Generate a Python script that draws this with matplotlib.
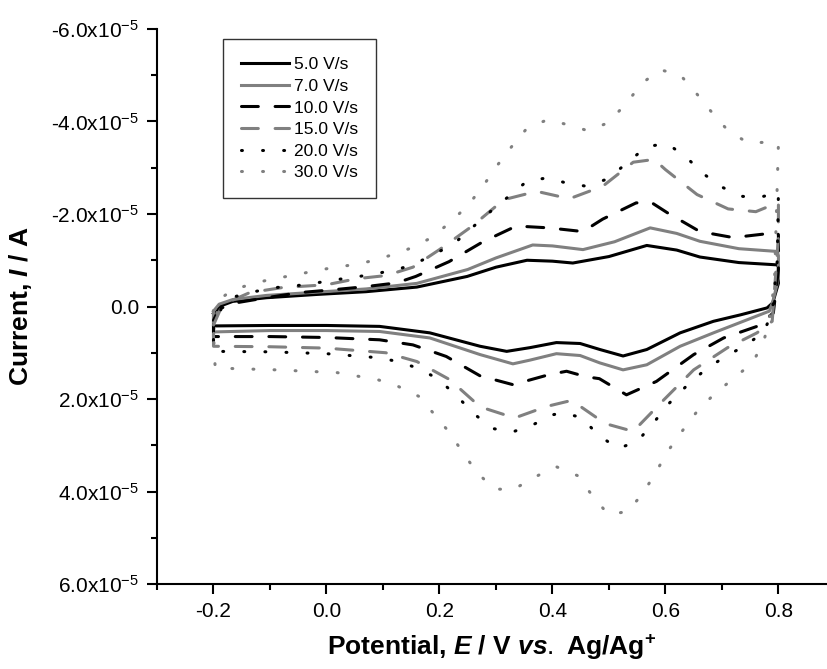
import numpy as np
import matplotlib
matplotlib.use('Agg')
import matplotlib.pyplot as plt
from matplotlib.ticker import MultipleLocator, FixedLocator

plt.rcParams['font.family'] = ['Liberation Sans', 'DejaVu Sans']
plt.rcParams['mathtext.fontset'] = 'custom'
plt.rcParams['mathtext.rm'] = 'Liberation Sans'
plt.rcParams['mathtext.it'] = 'Liberation Sans:italic:bold'
plt.rcParams['mathtext.bf'] = 'Liberation Sans:bold'

# current in units of 1e-5 A, potential in V; forward (upper) and reverse (lower) branches
labels = ['5.0 V/s', '7.0 V/s', '10.0 V/s', '15.0 V/s', '20.0 V/s', '30.0 V/s']

x5_up = [-0.2, -0.19, -0.166, -0.106, -0.018, 0.07, 0.16, 0.249, 0.30, 0.355, 0.40, 0.436, 0.50, 0.567, 0.62, 0.661, 0.73, 0.798, 0.80]
y5_up = [0.15, 0.0, -0.11, -0.19, -0.26, -0.32, -0.42, -0.65, -0.85, -1.0, -0.98, -0.94, -1.08, -1.32, -1.22, -1.07, -0.95, -0.90, -0.85]
x5_dn = [0.80, 0.79, 0.78, 0.733, 0.685, 0.626, 0.567, 0.525, 0.484, 0.449, 0.407, 0.36, 0.319, 0.272, 0.183, 0.094, 0.0, -0.1, -0.2, -0.2]
y5_dn = [-0.5, -0.08, 0.03, 0.18, 0.32, 0.57, 0.93, 1.07, 0.93, 0.80, 0.78, 0.89, 0.97, 0.86, 0.57, 0.43, 0.41, 0.41, 0.42, 0.15]

x7_up = [-0.2, -0.19, -0.166, -0.106, -0.018, 0.07, 0.16, 0.25, 0.30, 0.365, 0.40, 0.454, 0.51, 0.573, 0.62, 0.661, 0.73, 0.798, 0.80]
y7_up = [0.1, -0.05, -0.15, -0.24, -0.31, -0.38, -0.50, -0.80, -1.05, -1.33, -1.31, -1.23, -1.40, -1.70, -1.58, -1.41, -1.25, -1.19, -1.1]
x7_dn = [0.80, 0.79, 0.784, 0.744, 0.685, 0.626, 0.567, 0.525, 0.484, 0.449, 0.407, 0.36, 0.33, 0.272, 0.183, 0.094, 0.0, -0.1, -0.2, -0.2]
y7_dn = [-0.6, -0.1, 0.10, 0.29, 0.57, 0.86, 1.26, 1.37, 1.22, 1.06, 1.02, 1.16, 1.24, 1.04, 0.68, 0.54, 0.52, 0.52, 0.55, 0.1]

x10_up = [-0.2, -0.19, -0.16, -0.106, -0.048, 0.01, 0.07, 0.124, 0.158, 0.217, 0.277, 0.336, 0.394, 0.454, 0.489, 0.548, 0.575, 0.603, 0.661, 0.72, 0.798, 0.80]
y10_up = [0.3, 0.05, -0.08, -0.19, -0.30, -0.36, -0.43, -0.51, -0.65, -0.97, -1.40, -1.74, -1.70, -1.62, -1.89, -2.24, -2.25, -2.03, -1.62, -1.49, -1.60, -1.55]
x10_dn = [0.80, 0.791, 0.762, 0.703, 0.65, 0.584, 0.531, 0.483, 0.46, 0.425, 0.395, 0.33, 0.272, 0.212, 0.153, 0.094, 0.0, -0.1, -0.2, -0.2]
y10_dn = [-0.8, 0.14, 0.43, 0.68, 1.04, 1.62, 1.91, 1.56, 1.52, 1.40, 1.47, 1.69, 1.50, 1.08, 0.83, 0.72, 0.67, 0.65, 0.65, 0.3]

x15_up = [-0.2, -0.184, -0.136, -0.078, 0.0, 0.053, 0.106, 0.153, 0.2, 0.257, 0.314, 0.372, 0.43, 0.489, 0.543, 0.58, 0.6, 0.656, 0.711, 0.76, 0.798, 0.80]
y15_up = [0.4, -0.04, -0.30, -0.41, -0.47, -0.60, -0.67, -0.85, -1.23, -1.73, -2.31, -2.49, -2.33, -2.60, -3.12, -3.18, -2.96, -2.42, -2.11, -2.05, -2.24, -2.25]
x15_dn = [0.80, 0.789, 0.762, 0.71, 0.65, 0.597, 0.543, 0.49, 0.479, 0.434, 0.39, 0.333, 0.272, 0.218, 0.16, 0.105, 0.0, -0.1, -0.2, -0.2]
y15_dn = [-1.5, 0.32, 0.57, 0.89, 1.37, 2.02, 2.70, 2.52, 2.41, 2.03, 2.16, 2.41, 2.17, 1.58, 1.19, 1.0, 0.9, 0.87, 0.86, 0.4]

x20_up = [-0.2, -0.185, -0.16, -0.124, -0.089, -0.053, -0.018, 0.017, 0.053, 0.088, 0.124, 0.153, 0.224, 0.289, 0.355, 0.39, 0.425, 0.46, 0.498, 0.567, 0.603, 0.635, 0.667, 0.702, 0.737, 0.773, 0.80]
y20_up = [0.5, 0.0, -0.22, -0.33, -0.41, -0.45, -0.51, -0.58, -0.64, -0.71, -0.80, -0.90, -1.34, -2.04, -2.71, -2.78, -2.67, -2.60, -2.76, -3.46, -3.52, -3.25, -2.87, -2.57, -2.38, -2.38, -2.46]
x20_dn = [0.80, 0.798, 0.789, 0.773, 0.739, 0.705, 0.672, 0.638, 0.606, 0.578, 0.55, 0.516, 0.48, 0.452, 0.417, 0.401, 0.365, 0.33, 0.295, 0.263, 0.231, 0.197, 0.161, 0.126, 0.094, 0.0, -0.1, -0.2, -0.2]
y20_dn = [-2.46, -1.0, 0.14, 0.57, 0.86, 1.09, 1.35, 1.71, 2.10, 2.53, 2.92, 3.07, 2.77, 2.40, 2.30, 2.34, 2.56, 2.71, 2.64, 2.34, 1.94, 1.56, 1.33, 1.19, 1.11, 1.02, 0.98, 0.97, 0.5]

x30_up = [-0.2, -0.19, -0.166, -0.131, -0.095, -0.06, -0.025, 0.011, 0.046, 0.082, 0.117, 0.151, 0.186, 0.218, 0.25, 0.277, 0.301, 0.328, 0.356, 0.392, 0.427, 0.463, 0.498, 0.53, 0.558, 0.59, 0.626, 0.654, 0.682, 0.711, 0.746, 0.78, 0.80]
y30_up = [0.6, -0.15, -0.36, -0.49, -0.60, -0.67, -0.76, -0.84, -0.90, -0.99, -1.12, -1.27, -1.49, -1.81, -2.18, -2.60, -3.03, -3.46, -3.87, -4.04, -3.93, -3.80, -3.97, -4.38, -4.82, -5.12, -5.01, -4.62, -4.20, -3.80, -3.54, -3.55, -3.52]
x30_dn = [0.80, 0.793, 0.783, 0.773, 0.754, 0.719, 0.685, 0.654, 0.628, 0.603, 0.583, 0.561, 0.534, 0.499, 0.47, 0.445, 0.406, 0.367, 0.332, 0.297, 0.265, 0.24, 0.216, 0.188, 0.163, 0.124, 0.09, 0.019, -0.089, -0.197, -0.2]
y30_dn = [-3.52, -0.51, 0.36, 0.79, 1.22, 1.57, 1.91, 2.30, 2.72, 3.15, 3.59, 4.02, 4.43, 4.50, 4.08, 3.66, 3.46, 3.70, 3.95, 3.95, 3.57, 3.13, 2.70, 2.29, 1.94, 1.71, 1.58, 1.43, 1.37, 1.33, 0.6]

curves = [(x5_up + x5_dn, y5_up + y5_dn),
          (x7_up + x7_dn, y7_up + y7_dn),
          (x10_up + x10_dn, y10_up + y10_dn),
          (x15_up + x15_dn, y15_up + y15_dn),
          (x20_up + x20_dn, y20_up + y20_dn),
          (x30_up + x30_dn, y30_up + y30_dn)]

colors = ['black', '#808080', 'black', '#808080', 'black', '#808080']
dashes = [None, None, (5.5, 5.5), (5.5, 5.5), (0.3, 6.6), (0.3, 6.6)]

fig = plt.figure(figsize=(8.27, 6.69), dpi=100)
ax = fig.add_axes([157 / 827, 85 / 669, 670 / 827, 555 / 669])

for (xs, ys), c, d, lab in zip(curves, colors, dashes, labels):
    line, = ax.plot(xs, np.array(ys) * 1e-5, color=c, lw=2.2, label=lab,
                    solid_joinstyle='round', dash_capstyle='round')
    if d is not None:
        line.set_dashes(d)

ax.set_xlim(-0.3, 0.886)
ax.set_ylim(6e-5, -6e-5)

ax.xaxis.set_major_locator(FixedLocator([-0.2, 0.0, 0.2, 0.4, 0.6, 0.8]))
ax.xaxis.set_minor_locator(FixedLocator([-0.3, -0.1, 0.1, 0.3, 0.5, 0.7]))
ax.yaxis.set_minor_locator(MultipleLocator(1e-5))

ax.set_xticklabels(['-0.2', '0.0', '0.2', '0.4', '0.6', '0.8'])
yt = [-6e-5, -4e-5, -2e-5, 0.0, 2e-5, 4e-5, 6e-5]
ax.set_yticks(yt)
ax.set_yticklabels(['-6.0x10$^{-5}$', '-4.0x10$^{-5}$', '-2.0x10$^{-5}$', '0.0',
                    '2.0x10$^{-5}$', '4.0x10$^{-5}$', '6.0x10$^{-5}$'])

for s in ['top', 'right']:
    ax.spines[s].set_visible(False)
for s in ['left', 'bottom']:
    ax.spines[s].set_linewidth(1.5)

ax.tick_params(which='major', direction='out', length=7, width=1.5, labelsize=15, pad=6)
ax.tick_params(which='minor', direction='out', length=4, width=1.5)

ax.set_xlabel('Potential, $\\mathit{E}$ / V $\\mathit{vs.}$ Ag/Ag$^{\\mathbf{+}}$',
              fontsize=19, fontweight='bold')
ax.xaxis.set_label_coords(0.5, -0.088)
ax.set_ylabel('Current, $\\mathit{I}$ / A', fontsize=19, fontweight='bold')
ax.yaxis.set_label_coords(-0.183, 0.5)

leg = ax.legend(loc='upper left', bbox_to_anchor=(0.098, 0.982), fontsize=12.5,
                frameon=True, fancybox=False, edgecolor='black', handlelength=2.75,
                handletextpad=0.3, labelspacing=0.37, borderpad=1.05, borderaxespad=0)
leg.get_frame().set_linewidth(1.0)

fig.savefig('out.png', dpi=100)
